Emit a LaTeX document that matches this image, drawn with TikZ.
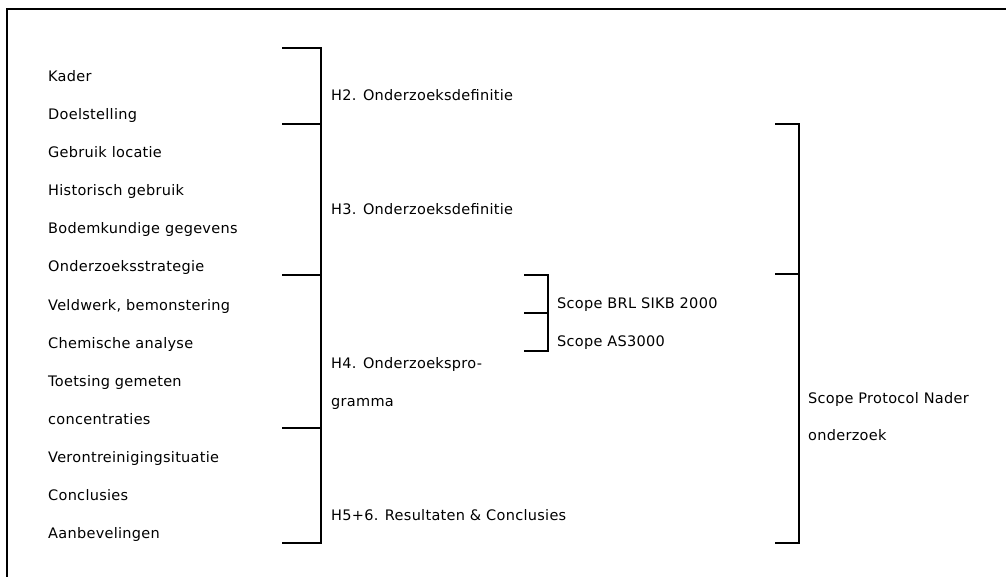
\documentclass[tikz,border=0pt]{standalone}
\usepackage{fontspec}
\setmainfont{DejaVu Sans}[LetterSpace=2]
\begin{document}
\begin{tikzpicture}[x=1pt,y=-1pt,
  lbl/.style={anchor=base west,inner sep=0pt,font=\fontsize{14.5}{17}\selectfont},
  brk/.style={line width=2pt,line join=miter},
  frame/.style={line width=2.5pt}]
\useasboundingbox (0,0) rectangle (1006,577);
% outer frame (partly visible)
\coordinate (ftl) at (7,9);
\coordinate (ftr) at (1010,9);
\coordinate (fbl) at (7,580);
\draw[frame] (ftr) -- (ftl) -- (fbl);
% left column
\foreach \t [count=\i from 0] in {Kader,Doelstelling,Gebruik locatie,Historisch gebruik,Bodemkundige gegevens,Onderzoeksstrategie,{Veldwerk, bemonstering},Chemische analyse,Toetsing gemeten,concentraties,Verontreinigingsituatie,Conclusies,Aanbevelingen}
  \node[lbl] (item\i) at (48,{82+38*\i}) {\t};
% bracket 1
\foreach \n/\y in {a/48,b/124,c/275,d/428,e/543}{
  \coordinate (l\n) at (282,\y);
  \coordinate (r\n) at (321,\y);
}
\draw[brk] (la) -- (ra) -- (re) -- (le);
\draw[brk] (lb) -- (rb);
\draw[brk] (lc) -- (rc);
\draw[brk] (ld) -- (rd);
\node[lbl] (h2) at (331,101) {H2. Onderzoeksdefinitie};
\node[lbl] (h3) at (331,215) {H3. Onderzoeksdefinitie};
\node[lbl] (h4a) at (331,368) {H4. Onderzoekspro-};
\node[lbl] (h4b) at (331,406) {gramma};
\node[lbl] (h56) at (331,520) {H5+6. Resultaten \& Conclusies};
% middle bracket
\foreach \n/\y in {a/275,b/313,c/351}{
  \coordinate (ml\n) at (524,\y);
  \coordinate (mr\n) at (548,\y);
}
\draw[brk] (mla) -- (mra) -- (mrc) -- (mlc);
\draw[brk] (mlb) -- (mrb);
\node[lbl] (brl) at (557,308) {Scope BRL SIKB 2000};
\node[lbl] (as) at (557,346) {Scope AS3000};
% right bracket
\foreach \n/\y in {a/124,b/274,c/543}{
  \coordinate (rl\n) at (775,\y);
  \coordinate (rr\n) at (799,\y);
}
\draw[brk] (rla) -- (rra) -- (rrc) -- (rlc);
\draw[brk] (rlb) -- (rrb);
\node[lbl] (spa) at (808,403) {Scope Protocol Nader};
\node[lbl] (spb) at (808,440) {onderzoek};
\end{tikzpicture}
\end{document}
